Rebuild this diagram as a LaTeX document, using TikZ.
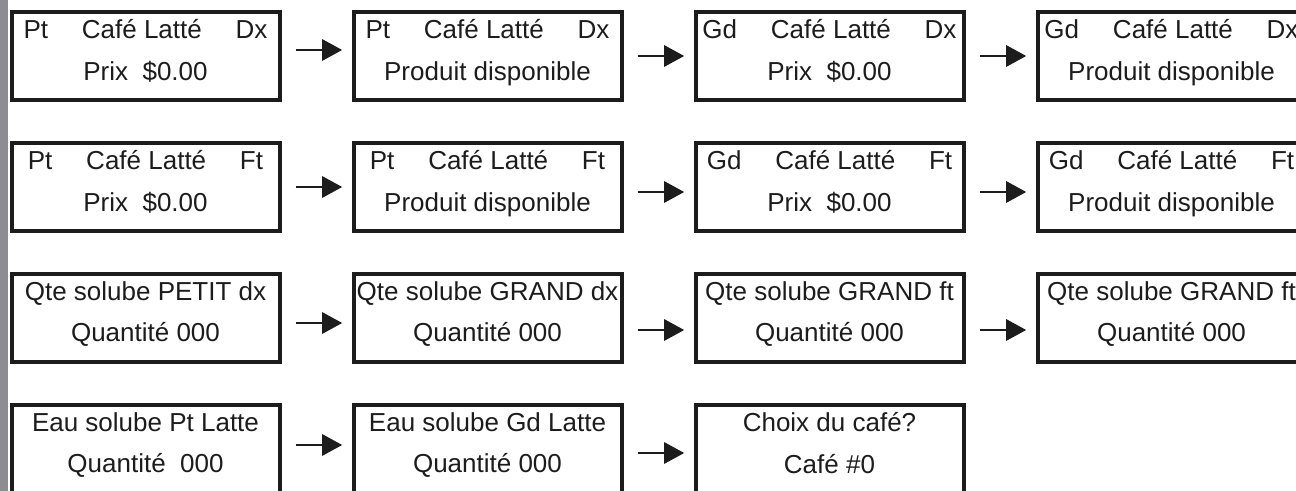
\documentclass[tikz,border=0pt]{standalone}
\usepackage{xcolor}
\usepackage{fontspec}
\setmainfont{Liberation Sans}
\usetikzlibrary{arrows.meta}

\definecolor{ink}{RGB}{28,28,28}
\definecolor{strip}{RGB}{140,140,146}

\newcommand{\ecran}[2]{#1\hspace{1.3em}Café Latté\hspace{1.3em}#2}

\begin{document}
\begin{tikzpicture}[x=0.75pt,y=-0.75pt,->,>={Triangle[length=15pt,width=16pt]},shorten >=7pt,shorten <=10.5pt,node distance=256.5pt,line width=1.5pt,color=ink,
        lcd/.style={rectangle, draw, line width=3pt, minimum width=201pt, minimum height=66pt, inner sep=0pt, align=center, font=\fontsize{19.5}{31}\selectfont, execute at end node=\strut},]
                        \useasboundingbox (0,0) rectangle (1296,491);
                        \clip (0,0) rectangle (1296,491);
                        \fill[strip] (0,0) rectangle (8,491);

                        \node [lcd](11) at (145.5,56) {\ecran{Pt}{Dx}\\Prix\ \ \$0.00};
                        \node [lcd](12) [right of = 11]{\ecran{Pt}{Dx}\\Produit disponible};
                        \node [lcd](13) [right of = 12]{\ecran{Gd}{Dx}\\Prix\ \ \$0.00};
                        \node [lcd](14) [right of = 13]{\ecran{Gd}{Dx}\\Produit disponible};

                        \node [lcd](21) [node distance=98.25pt, below of = 11]{\ecran{Pt}{Ft}\\Prix\ \ \$0.00};
                        \node [lcd](22) [right of = 21]{\ecran{Pt}{Ft}\\Produit disponible};
                        \node [lcd](23) [right of = 22]{\ecran{Gd}{Ft}\\Prix\ \ \$0.00};
                        \node [lcd](24) [right of = 23]{\ecran{Gd}{Ft}\\Produit disponible};

                        \node [lcd](31) [node distance=98.25pt, below of = 21]{Qte solube PETIT dx\\Quantité 000};
                        \node [lcd](32) [right of = 31]{Qte solube GRAND dx\\Quantité 000};
                        \node [lcd](33) [right of = 32]{Qte solube GRAND ft\\Quantité 000};
                        \node [lcd](34) [right of = 33]{Qte solube GRAND ft\\Quantité 000};

                        \node [lcd](41) [node distance=98.25pt, below of = 31]{Eau solube Pt Latte\\Quantité\ \ 000};
                        \node [lcd](42) [right of = 41]{Eau solube Gd Latte\\Quantité 000};
                        \node [lcd](43) [right of = 42]{Choix du café?\\Café \#0};

                        \path
                            ([yshift=4.5pt]11.east) edge ([yshift=4.5pt]12.west)
                            (12) edge (13)
                            (13) edge (14)

                            (21) edge (22)
                            ([yshift=-3.75pt]22.east) edge ([yshift=-3.75pt]23.west)
                            ([yshift=-3.75pt]23.east) edge ([yshift=-3.75pt]24.west)

                            ([yshift=-3.75pt]31.east) edge ([yshift=-3.75pt]32.west)
                            ([yshift=-9pt]32.east) edge ([yshift=-9pt]33.west)
                            ([yshift=-9pt]33.east) edge ([yshift=-9pt]34.west)

                            ([yshift=3pt]41.east) edge ([yshift=3pt]42.west)
                            ([yshift=-3pt]42.east) edge ([yshift=-3pt]43.west)
                        ;

                    \end{tikzpicture}
\end{document}
